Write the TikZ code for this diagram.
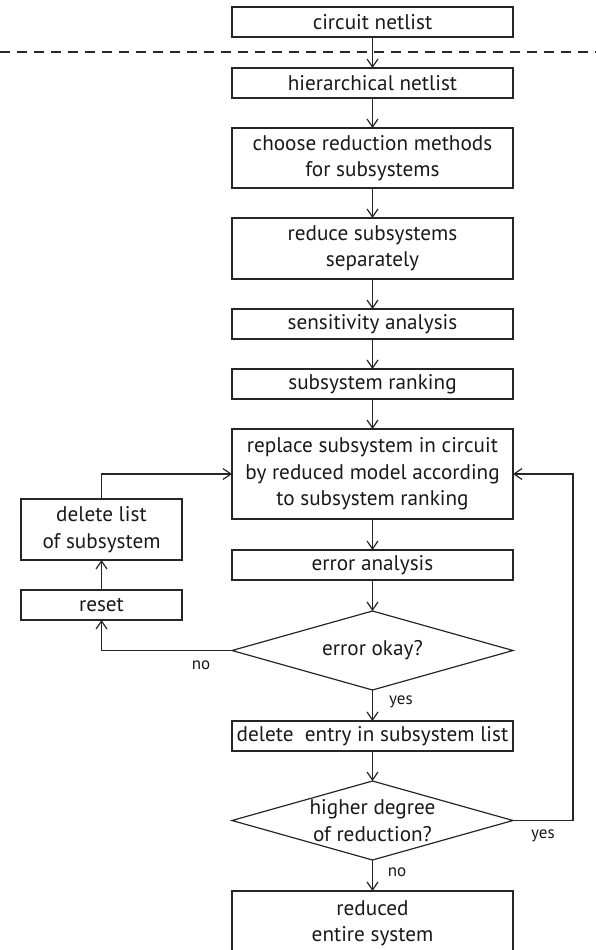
\documentclass[tikz,border=0pt]{standalone}
\usepackage{fontspec}
\setmainfont{PT Sans}
\usetikzlibrary{arrows.meta,shapes.geometric}

\begin{document}
\begin{tikzpicture}[x=1pt,y=-1pt,
  line width=1.2pt,
  proc/.style={draw=black!85, rectangle, minimum width=281pt, inner sep=0pt,
    outer sep=0pt, align=center, text=black!90, font=\fontsize{21.2}{26.5}\selectfont},
  sideproc/.style={proc, minimum width=161pt},
  decision/.style={draw=black!85, diamond, minimum width=281pt, minimum height=79pt,
    inner sep=0pt, outer sep=0pt},
  dtext/.style={align=center, inner sep=0pt, text=black!90, font=\fontsize{21.2}{26.5}\selectfont},
  flow/.style={draw=black!85, -{Straight Barb[length=8pt,width=11pt]}},
  tag/.style={inner sep=0pt, text=black!90, font=\fontsize{17}{19}\selectfont}]
\useasboundingbox (0,0) rectangle (596,950);

% main column
\node[proc, minimum height=30pt] (netlist) at (372.5,22) {circuit netlist};
\node[proc, minimum height=30pt] (hier) at (372.5,83) {hierarchical netlist};
\node[proc, minimum height=60pt] (choose) at (372.5,158) {choose reduction methods\\for subsystems};
\node[proc, minimum height=61pt] (reduce) at (372.5,248.5) {reduce subsystems\\separately};
\node[proc, minimum height=30pt] (sens) at (372.5,324) {sensitivity analysis};
\node[proc, minimum height=30pt] (rank) at (372.5,384) {subsystem ranking};
\node[proc, minimum height=90pt] (replace) at (372.5,474) {replace subsystem in circuit\\by reduced model according\\to subsystem ranking};
\node[proc, minimum height=30pt] (err) at (372.5,565) {error analysis};
\node[decision] (okay) at (372.5,650.5) {};
\node[dtext] (okaytext) at (372.5,650.5) {error okay?};
\node[proc, minimum height=30pt] (delentry) at (372.5,736) {delete\ \ entry in subsystem list};
\node[decision] (higher) at (372.5,820.5) {};
\node[dtext] (highertext) at (372.5,820.5) {higher degree\\of reduction?};
% the last box runs on past the lower edge of the page
\node[proc, minimum height=64pt] (final) at (372.5,923) {reduced\\entire system};

% side column
\node[sideproc, minimum height=61pt] (dellist) at (101.5,529.5) {delete list\\of subsystem};
\node[sideproc, minimum height=30pt] (reset) at (101.5,605) {reset};

% separator
\draw[draw=black!85, dash pattern=on 10pt off 7pt] (0,52) -- (596,52);

% connectors
\draw[flow] (netlist) -- (hier);
\draw[flow] (hier) -- (choose);
\draw[flow] (choose) -- (reduce);
\draw[flow] (reduce) -- (sens);
\draw[flow] (sens) -- (rank);
\draw[flow] (rank) -- (replace);
\draw[flow] (replace) -- (err);
\draw[flow] (err) -- (okay);
\draw[flow] (okay) -- (delentry);
\draw[flow] (delentry) -- (higher);
\draw[flow] (higher) -- (final);
\draw[flow] (okay.west) -| (reset.south);
\draw[flow] (reset) -- (dellist);
\draw[flow] (dellist.north) |- (replace.west);
\draw[flow] (higher.east) -- ++(60,0) |- (replace.east);

% branch labels
\node[tag] (noleft) at (201,665) {no};
\node[tag] (yesdown) at (401,702) {yes};
\node[tag] (yesright) at (543,836) {yes};
\node[tag] (nodown) at (397,872) {no};
\end{tikzpicture}
\end{document}
